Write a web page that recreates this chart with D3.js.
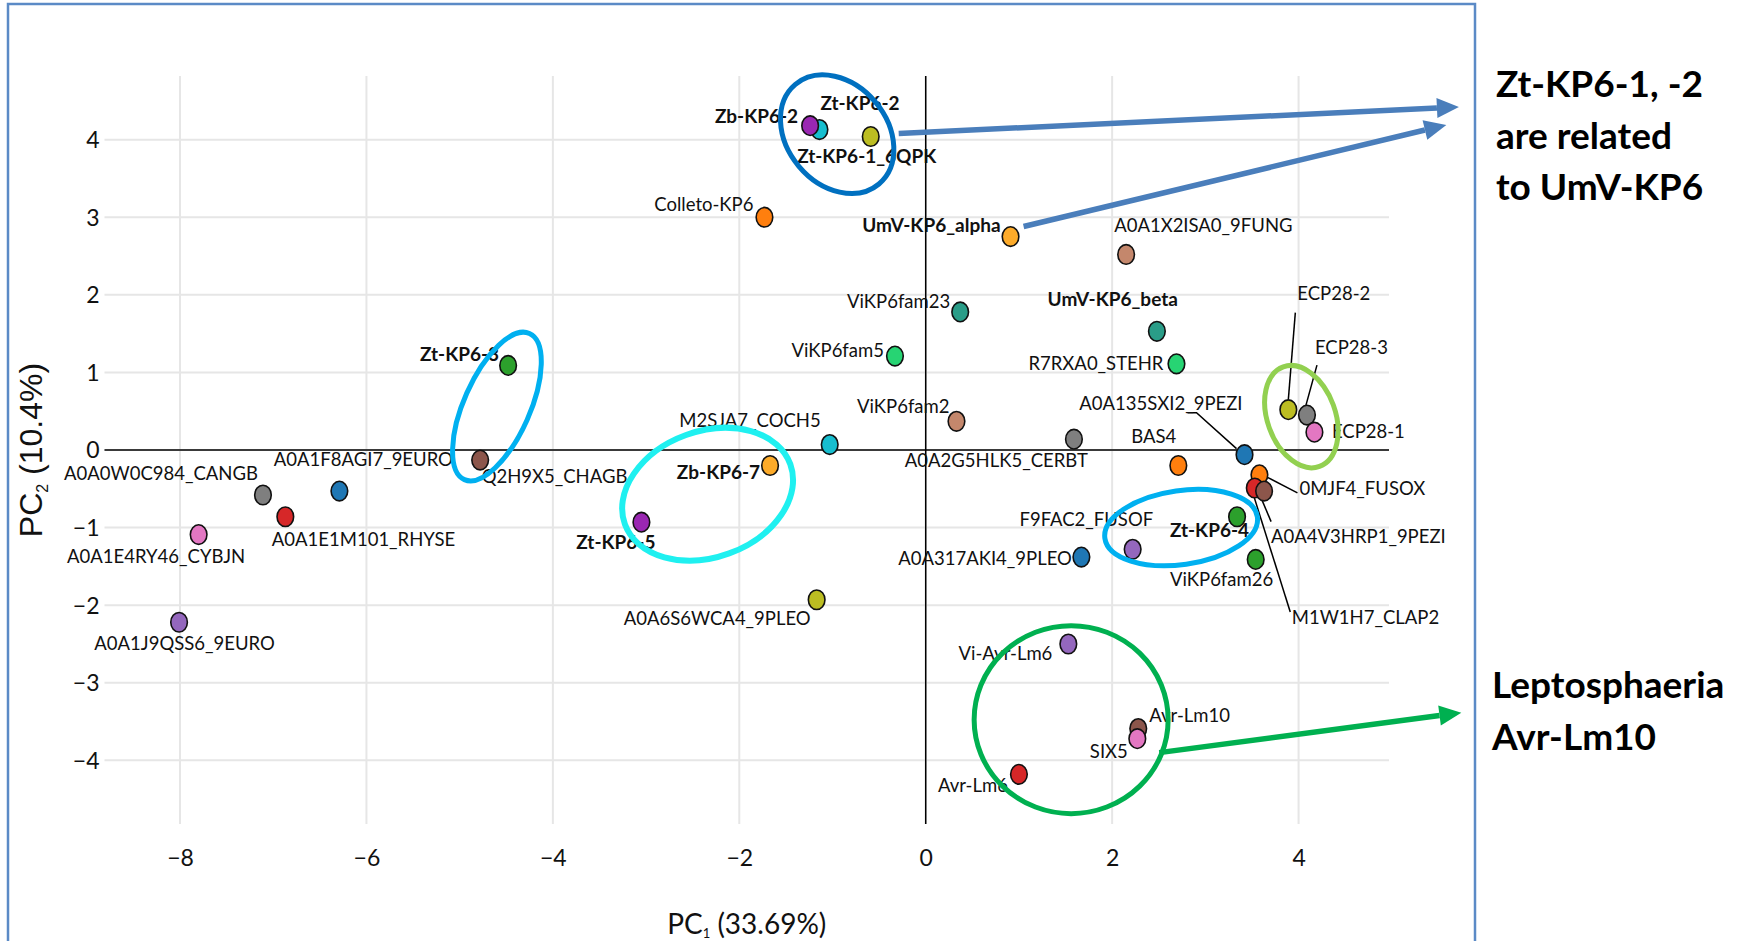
<!DOCTYPE html>
<html>
<head>
<meta charset="utf-8">
<script src="https://cdn.jsdelivr.net/npm/d3@7"></script>
<style>
  html, body { margin: 0; padding: 0; background: #ffffff; }
  svg { display: block; }
  .lbl { font-family: Lato, "Open Sans", sans-serif; font-size: 18.5px; fill: #111; }
  .lbl.b { font-weight: 700; font-size: 19px; }
  .tick text { font-family: Lato, sans-serif; font-size: 23px; fill: #111; }
</style>
</head>
<body>
<svg id="chart" width="1756" height="941"></svg>
<script>
// PCA scores of KP6-like effector sequences (PC1 vs PC2)
const names = [
  "Zt-KP6-2", "Zb-KP6-2", "Zt-KP6-1_6QPK", "Colleto-KP6", "UmV-KP6_alpha",
  "A0A1X2ISA0_9FUNG", "ViKP6fam23", "UmV-KP6_beta", "ViKP6fam5", "R7RXA0_STEHR",
  "Zt-KP6-3", "ViKP6fam2", "M2SJA7_COCH5", "A0A2G5HLK5_CERBT", "A0A135SXI2_9PEZI",
  "BAS4", "ECP28-2", "ECP28-3", "ECP28-1", "Zb-KP6-7",
  "Q2H9X5_CHAGB", "A0A1F8AGI7_9EURO", "A0A0W0C984_CANGB", "A0A1E1M101_RHYSE", "A0A1E4RY46_CYBJN",
  "A0A1J9QSS6_9EURO", "Zt-KP6-5", "A0A6S6WCA4_9PLEO", "F9FAC2_FUSOF", "A0A317AKI4_9PLEO",
  "Zt-KP6-4", "ViKP6fam26", "0MJF4_FUSOX", "M1W1H7_CLAP2", "A0A4V3HRP1_9PEZI",
  "Vi-Avr-Lm6", "Avr-Lm10", "SIX5", "Avr-Lm6"
];
const pc1 = [
  -1.14, -1.24, -0.59, -1.73, 0.91,
  2.15, 0.37, 2.48, -0.33, 2.69,
  -4.48, 0.33, -1.03, 1.59, 3.42,
  2.71, 3.89, 4.09, 4.17, -1.67,
  -4.78, -6.29, -7.11, -6.87, -7.80,
  -8.01, -3.05, -1.17, 2.22, 1.67,
  3.34, 3.54, 3.58, 3.53, 3.63,
  1.53, 2.28, 2.27, 1.00
];
const pc2 = [
  4.13, 4.18, 4.04, 3.00, 2.75,
  2.52, 1.78, 1.53, 1.21, 1.11,
  1.09, 0.37, 0.07, 0.14, -0.06,
  -0.20, 0.52, 0.45, 0.23, -0.20,
  -0.13, -0.53, -0.58, -0.86, -1.09,
  -2.22, -0.93, -1.93, -1.28, -1.38,
  -0.86, -1.41, -0.32, -0.49, -0.53,
  -2.50, -3.59, -3.72, -4.18
];
const colors = [
  "#17becf", "#9a27b2", "#bcbd22", "#ff7f0e", "#fdab2a",
  "#c4876c", "#2a9d88", "#2a9d88", "#27d473", "#27d473",
  "#2ca02c", "#c4876c", "#17becf", "#7f7f7f", "#1f77b4",
  "#ff7f0e", "#bcbd22", "#7f7f7f", "#e377c2", "#fdab2a",
  "#8c564b", "#1f77b4", "#7f7f7f", "#d62728", "#e377c2",
  "#9467bd", "#9a27b2", "#bcbd22", "#9467bd", "#1f77b4",
  "#2ca02c", "#2ca02c", "#ff7f0e", "#d62728", "#8c564b",
  "#9467bd", "#8c564b", "#e377c2", "#d62728"
];
const bold = [
  true, true, true, false, true,
  false, false, true, false, false,
  true, false, false, false, false,
  false, false, false, false, true,
  false, false, false, false, false,
  false, true, false, false, false,
  true, false, false, false, false,
  false, false, false, false
];

// label placement relative to each marker: [dx, dy, anchor]
const labelLayout = [
  [1, -20, "start"], [-12, -3, "end"], [-4, 26, "middle"], [-11, -6, "end"], [-10, -5, "end"],
  [-12, -22, "start"], [-10, -4, "end"], [21, -25, "end"], [-11, 1, "end"], [-13, 6.5, "end"],
  [-9, -4, "end"], [-7, -8, "end"], [-9, -17.5, "end"], [14, 28, "end"], [-2, -45, "end"],
  [-2, -23, "end"], [9, -110, "start"], [8, -61, "start"], [17.5, 6, "start"], [-10, 13, "end"],
  [1.5, 23, "start"], [24, -25, "middle"], [-5, -15, "end"], [-13.5, 29.5, "start"], [-42.5, 28.5, "middle"],
  [5.5, 27.5, "middle"], [14, 26.5, "end"], [-6, 25, "end"], [20.5, -23, "end"], [-9.5, 7.6, "end"],
  [12, 20.5, "end"], [17.5, 27, "end"], [40, 20, "start"], [37, 135.5, "start"], [7, 51.5, "start"],
  [-16, 16, "end"], [11, -7, "start"], [-9.5, 19, "end"], [-11, 17.5, "end"]
];
// callout leader lines, offsets from the marker centre
const leaders = {
  "ECP28-2": [[0, -10], [7, -97]],
  "ECP28-3": [[-1, -10], [10, -50]],
  "A0A135SXI2_9PEZI": [[-57, -42], [-48, -42], [-8, -6]],
  "0MJF4_FUSOX": [[7, 2], [38, 18]],
  "M1W1H7_CLAP2": [[-1, 8], [35.5, 124]],
  "A0A4V3HRP1_9PEZI": [[-2.5, 8], [7, 30.5]]
};

const xTicks = [-8, -6, -4, -2, 0, 2, 4];
const yTicks = [-4, -3, -2, -1, 0, 1, 2, 3, 4];

// highlighted groups: centre in PC units, radii in px, tilt in degrees
const groups = [
  { cx: -0.95, cy: 4.07, rx: 50, ry: 65, rot: -40, color: "#0070c0", w: 5 },
  { cx: -4.60, cy: 0.56, rx: 33, ry: 80, rot: 24, color: "#00b0f0", w: 5 },
  { cx: -2.34, cy: -0.57, rx: 88, ry: 63, rot: -20, color: "#1ff0f0", w: 6 },
  { cx: 2.74, cy: -1.00, rx: 77, ry: 37, rot: -8, color: "#00b0f0", w: 5 },
  { cx: 4.03, cy: 0.43, rx: 34, ry: 53, rot: -20, color: "#92d050", w: 5 },
  { cx: 1.56, cy: -3.475, rx: 97, ry: 94, rot: 0, color: "#00b050", w: 5 }
];
// callout arrows, from/to in PC units
const arrows = [
  { from: [-0.29, 4.08], to: [5.72, 4.42], color: "#4a7ebb" },
  { from: [1.05, 2.88], to: [5.585, 4.19], color: "#4a7ebb" },
  { from: [2.505, -3.90], to: [5.746, -3.385], color: "#00b050" }
];
const notes = [
  { lines: ["Zt-KP6-1, -2", "are related", "to UmV-KP6"], x: 1496, y: 97 },
  { lines: ["Leptosphaeria", "Avr-Lm10"], x: 1492, y: 698 }
];

const svg = d3.select("#chart");
const plot = { left: 104.5, right: 1389, top: 76, bottom: 824 };

const x = d3.scaleLinear().domain([-8.81, 4.97]).range([plot.left, plot.right]);
const y = d3.scaleLinear().domain([-4.82, 4.82]).range([plot.bottom, plot.top]);

// outer frame
svg.append("rect")
  .attr("x", 8).attr("y", 4).attr("width", 1467).attr("height", 1000)
  .attr("fill", "#ffffff").attr("stroke", "#5b8ac6").attr("stroke-width", 2.5);

// grid
const grid = svg.append("g");
grid.selectAll("line.vx").data(xTicks).join("line")
  .attr("x1", d => x(d)).attr("x2", d => x(d))
  .attr("y1", plot.top).attr("y2", plot.bottom)
  .attr("stroke", "#e6e6e6").attr("stroke-width", 2);
grid.selectAll("line.hy").data(yTicks).join("line")
  .attr("x1", plot.left).attr("x2", plot.right)
  .attr("y1", d => y(d)).attr("y2", d => y(d))
  .attr("stroke", "#e6e6e6").attr("stroke-width", 2);

// zero lines
svg.append("line").attr("x1", x(0)).attr("x2", x(0)).attr("y1", plot.top).attr("y2", plot.bottom)
  .attr("stroke", "#000").attr("stroke-width", 1.5);
svg.append("line").attr("x1", plot.left).attr("x2", plot.right).attr("y1", y(0)).attr("y2", y(0))
  .attr("stroke", "#000").attr("stroke-width", 1.5);

// axes (tick labels only)
const xAxis = svg.append("g").attr("transform", `translate(0,${plot.bottom})`)
  .call(d3.axisBottom(x).tickValues(xTicks).tickSize(0).tickPadding(26).tickFormat(d3.format("d")));
const yAxis = svg.append("g").attr("transform", `translate(${plot.left},0)`)
  .call(d3.axisLeft(y).tickValues(yTicks).tickSize(0).tickPadding(5).tickFormat(d3.format("d")));
xAxis.select(".domain").remove();
yAxis.select(".domain").remove();
yAxis.selectAll(".tick text").attr("dy", "0.34em");

// axis titles
const yt = svg.append("text")
  .attr("transform", `translate(42,${y(0)}) rotate(-90)`)
  .attr("text-anchor", "middle")
  .style("font-family", "'Liberation Sans', Arial, sans-serif").style("font-size", "32px").attr("fill", "#111");
yt.append("tspan").text("PC");
yt.append("tspan").text("2").style("font-size", "16px").attr("dy", 6);
yt.append("tspan").text(" (10.4%)").attr("dy", -6);

const xt = svg.append("text")
  .attr("x", (plot.left + plot.right) / 2).attr("y", 934)
  .attr("text-anchor", "middle")
  .style("font-family", "Lato, sans-serif").style("font-size", "28px").attr("fill", "#111");
xt.append("tspan").text("PC");
xt.append("tspan").text("1").style("font-size", "13px").attr("dy", 4);
xt.append("tspan").text(" (33.69%)").attr("dy", -4);

const points = names.map((n, i) => ({
  name: n, px: pc1[i], py: pc2[i], color: colors[i], bold: bold[i], lay: labelLayout[i]
}));

// leader lines
const line = d3.line();
svg.append("g").selectAll("path").data(points.filter(p => leaders[p.name])).join("path")
  .attr("d", p => line(leaders[p.name].map(o => [x(p.px) + o[0], y(p.py) + o[1]])))
  .attr("fill", "none").attr("stroke", "#000").attr("stroke-width", 1.5);

// text labels
svg.append("g").selectAll("text").data(points).join("text")
  .attr("class", p => "lbl" + (p.bold ? " b" : ""))
  .attr("x", p => x(p.px) + p.lay[0])
  .attr("y", p => y(p.py) + p.lay[1])
  .attr("text-anchor", p => p.lay[2])
  .text(p => p.name);

// markers
svg.append("g").selectAll("ellipse").data(points).join("ellipse")
  .attr("cx", p => x(p.px)).attr("cy", p => y(p.py))
  .attr("rx", 8.3).attr("ry", 9.8)
  .attr("fill", p => p.color).attr("stroke", "#111").attr("stroke-width", 1.6);

// group outlines
svg.append("g").selectAll("ellipse").data(groups).join("ellipse")
  .attr("transform", g => `translate(${x(g.cx)},${y(g.cy)}) rotate(${g.rot})`)
  .attr("rx", g => g.rx).attr("ry", g => g.ry)
  .attr("fill", "none").attr("stroke", g => g.color).attr("stroke-width", g => g.w);

// callout arrows
const ag = svg.append("g");
arrows.forEach(a => {
  const x1 = x(a.from[0]), y1 = y(a.from[1]), x2 = x(a.to[0]), y2 = y(a.to[1]);
  const ang = Math.atan2(y2 - y1, x2 - x1);
  const L = 22, W = 10;
  const bx = x2 - L * Math.cos(ang), by = y2 - L * Math.sin(ang);
  ag.append("line").attr("x1", x1).attr("y1", y1).attr("x2", bx).attr("y2", by)
    .attr("stroke", a.color).attr("stroke-width", 5.5);
  ag.append("path")
    .attr("d", `M${x2},${y2} L${bx + W * Math.sin(ang)},${by - W * Math.cos(ang)} L${bx - W * Math.sin(ang)},${by + W * Math.cos(ang)} Z`)
    .attr("fill", a.color);
});

// side notes
notes.forEach(n => {
  const t = svg.append("text").attr("x", n.x).attr("y", n.y)
    .style("font-family", "Lato, sans-serif").style("font-weight", 700).style("font-size", "37px").attr("fill", "#000");
  n.lines.forEach((s, i) => t.append("tspan").attr("x", n.x).attr("dy", i === 0 ? 0 : 51.5).text(s));
});
</script>
</body>
</html>
